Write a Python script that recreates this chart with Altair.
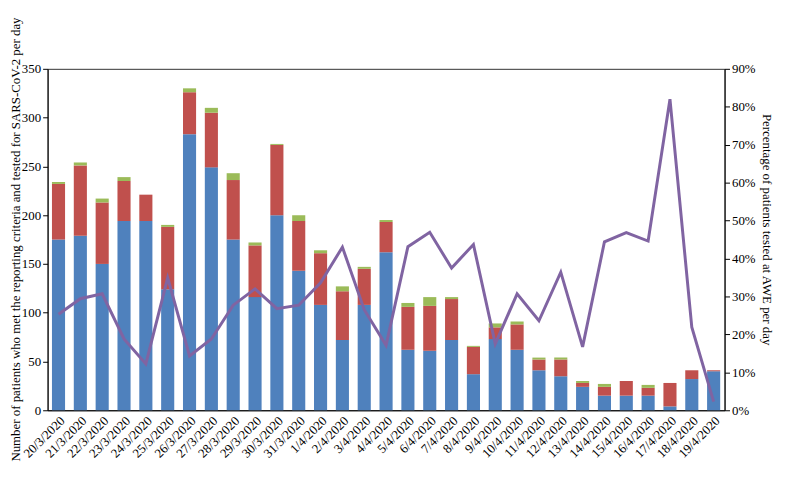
import altair as alt
import pandas as pd

dates = ["20/3/2020", "21/3/2020", "22/3/2020", "23/3/2020", "24/3/2020", "25/3/2020",
         "26/3/2020", "27/3/2020", "28/3/2020", "29/3/2020", "30/3/2020", "31/3/2020",
         "1/4/2020", "2/4/2020", "3/4/2020", "4/4/2020", "5/4/2020", "6/4/2020",
         "7/4/2020", "8/4/2020", "9/4/2020", "10/4/2020", "11/4/2020", "12/4/2020",
         "13/4/2020", "14/4/2020", "15/4/2020", "16/4/2020", "17/4/2020", "18/4/2020",
         "19/4/2020"]
blue = [175, 179, 150, 194, 194, 124, 283, 249, 175, 116, 200, 143,
        108, 72, 108, 162, 62, 61, 72, 37, 73, 62, 41, 35,
        24, 15, 15, 15, 4, 32, 40]
red = [57, 72, 63, 41, 27, 64, 43, 56, 61, 53, 72, 51,
       53, 50, 37, 31, 44, 46, 42, 28, 12, 26, 11, 17,
       4, 9, 15, 8, 24, 9, 1]
green = [2, 3, 4, 4, 0, 2, 4, 5, 7, 3, 1, 6,
         3, 5, 2, 2, 4, 9, 2, 1, 4, 3, 2, 2,
         2, 3, 0, 3, 0, 0, 0]
pct = [25.3, 29.4, 30.7, 18.8, 12.2, 34.9, 14.3, 18.8, 27.7, 32.0, 26.8, 27.7,
       33.6, 43.0, 26.5, 17.1, 43.1, 46.9, 37.5, 43.7, 17.5, 30.7, 23.6, 36.4,
       16.7, 44.4, 46.8, 44.6, 82.0, 21.9, 2.3]

series = ["Series 1", "Series 2", "Series 3"]
colors = ["#4F81BD", "#C0504D", "#9BBB59"]

rows = []
for i, d in enumerate(dates):
    for k, (name, vals) in enumerate(zip(series, [blue, red, green])):
        rows.append({"date": d, "series": name, "order": k, "value": vals[i]})
bars_df = pd.DataFrame(rows)
line_df = pd.DataFrame({"date": dates, "pct": [p / 100 for p in pct]})

font = "Liberation Serif"

x_enc = alt.X("date:N", sort=dates, title=None,
              scale=alt.Scale(paddingInner=0.4, paddingOuter=0.2),
              axis=alt.Axis(labelAngle=-45, labelFontSize=13, labelFont=font,
                            labelColor="#000", ticks=False, domainColor="#000",
                            labelPadding=4))

bars = alt.Chart(bars_df).mark_bar().encode(
    x=x_enc,
    y=alt.Y("value:Q", stack="zero",
            scale=alt.Scale(domain=[0, 350], nice=False),
            axis=alt.Axis(values=list(range(0, 351, 50)), grid=False,
                          title="Number of patients who met the reporting criteria and tested for SARS-CoV-2 per day",
                          titleFont=font, titleFontSize=13, titleFontWeight="normal",
                          titleColor="#000", labelFont=font, labelFontSize=13,
                          labelColor="#000", domainColor="#000", tickColor="#000",
                          tickSize=5, titleX=-25, titleY=172)),
    color=alt.Color("series:N", scale=alt.Scale(domain=series, range=colors), legend=None),
    order=alt.Order("order:Q", sort="ascending"),
)

line = alt.Chart(line_df).mark_line(color="#8064A2", strokeWidth=3).encode(
    x=alt.X("date:N", sort=dates),
    y=alt.Y("pct:Q", scale=alt.Scale(domain=[0, 0.9], nice=False),
            axis=alt.Axis(orient="right", format=".0%", values=[i / 10 for i in range(10)],
                          grid=False, title="Percentage of patients tested at AWE per day",
                          titleFont=font, titleFontSize=13, titleFontWeight="normal",
                          titleColor="#000", labelFont=font, labelFontSize=13,
                          labelColor="#000", domainColor="#000", tickColor="#000",
                          tickSize=5, titleX=35, titleY=162)),
)

chart = alt.layer(bars, line).resolve_scale(y="independent").properties(
    width=684, height=345,
    background="white",
    autosize=alt.AutoSizeParams(type="none"),
    padding={"left": 40, "top": 59, "right": 54, "bottom": 68},
).configure_view(stroke="#333", strokeWidth=1)

chart.save("out.html", embed_options={"renderer": "svg", "actions": False})
